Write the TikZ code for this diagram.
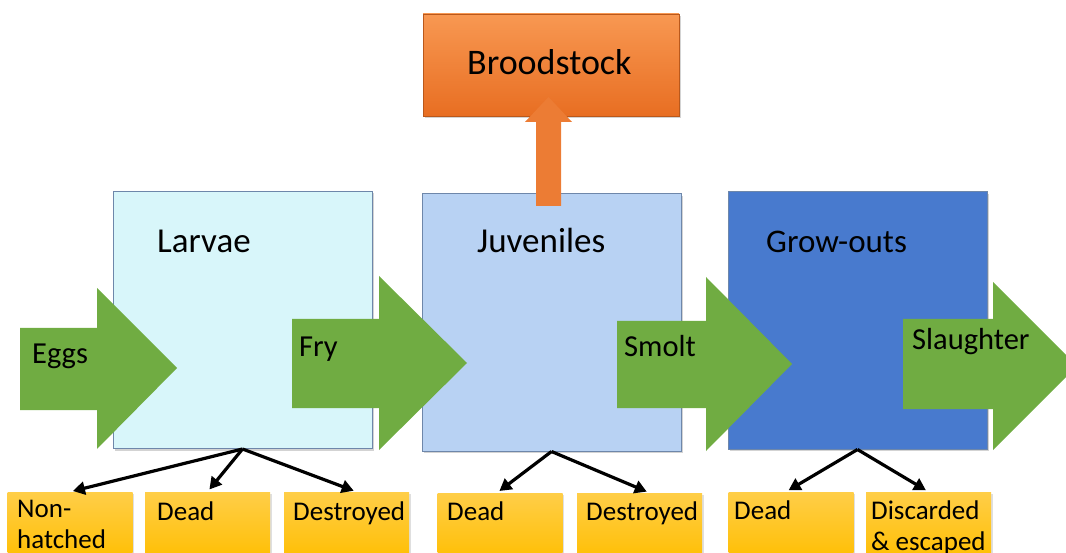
\documentclass[tikz,border=0pt]{standalone}
\usepackage{fontspec}
\setmainfont{Carlito}
\usetikzlibrary{arrows.meta,shadows}
\definecolor{larvaefill}{RGB}{216,246,250}
\definecolor{juvfill}{RGB}{184,210,243}
\definecolor{growfill}{RGB}{72,122,206}
\definecolor{stageline}{RGB}{110,135,170}
\definecolor{arrowgreen}{RGB}{112,172,66}
\definecolor{broodtop}{RGB}{248,152,82}
\definecolor{broodbot}{RGB}{232,110,34}
\definecolor{broodarrow}{RGB}{236,124,52}
\definecolor{losstop}{RGB}{255,206,72}
\definecolor{lossbot}{RGB}{255,190,0}

\begin{document}
\begin{tikzpicture}[
    x=1pt, y=-1pt,
    stagebox/.style={draw=stageline, line width=1pt, inner sep=0pt,
      minimum width=259pt, minimum height=257pt,
      drop shadow={shadow xshift=2pt, shadow yshift=-2pt, opacity=.35}},
    stagetext/.style={anchor=base west, inner sep=0pt, font=\fontsize{35}{41}\selectfont},
    flowtext/.style={anchor=base west, inner sep=0pt, font=\fontsize{30.5}{36}\selectfont},
    lossbox/.style={inner sep=0pt, minimum width=125pt, minimum height=70pt,
      top color=losstop, bottom color=lossbot,
      drop shadow={shadow xshift=1.5pt, shadow yshift=-1.5pt, opacity=.25}},
    losstext/.style={anchor=base west, inner sep=0pt, align=left,
      font=\fontsize{27}{31}\selectfont},
    greenarrow/.style={fill=arrowgreen},
    lossline/.style={line width=3.2pt, -{Triangle[length=12pt,width=13pt]}, shorten >=3pt},
    ]
    \useasboundingbox (0,0) rectangle (1066,553);
    \clip (0,0) rectangle (1066,553);

    % stages
    \node[stagebox, fill=larvaefill] (larvae) at (242.5,320) {};
    \node[stagebox, fill=juvfill] (juveniles) at (551.5,322.5) {};
    \node[stagebox, fill=growfill] (growouts) at (857.5,320.5) {};
    \node[draw=broodbot!80!black, line width=.8pt, inner sep=0pt,
      minimum width=256pt, minimum height=102pt,
      top color=broodtop, bottom color=broodbot,
      drop shadow={shadow xshift=2pt, shadow yshift=-2pt, opacity=.35}] (brood) at (551,65) {};

    % losses
    \node[lossbox] (nonhatched) at (70,527) {};
    \node[lossbox] (deadlarvae) at (207.5,527) {};
    \node[lossbox] (destrlarvae) at (346.5,527) {};
    \node[lossbox] (deadjuv) at (500,528) {};
    \node[lossbox] (destrjuv) at (639.5,528) {};
    \node[lossbox] (deadgrow) at (791,527) {};
    \node[lossbox] (discarded) at (928.5,527) {};

    \draw[lossline] (larvae.south) -- (nonhatched.north);
    \draw[lossline] (larvae.south) -- (deadlarvae.north);
    \draw[lossline] (larvae.south) -- ([xshift=10pt]destrlarvae.north);
    \draw[lossline] (juveniles.south) -- ([xshift=-3pt]deadjuv.north);
    \draw[lossline] (juveniles.south) -- ([xshift=10pt]destrjuv.north);
    \draw[lossline] (growouts.south) -- ([xshift=-5pt]deadgrow.north);
    \draw[lossline] (growouts.south) -- (discarded.north);

    % broodstock arrow
    \fill[broodarrow] (536,206) -- (536,122) -- (525,122) -- (548.5,97) -- (572,122) -- (561,122) -- (561,206) -- cycle;

    % flow arrows
    \fill[greenarrow] (20,328) -- (97,328) -- (97,288) -- (177,368) -- (97,449) -- (97,410) -- (20,410) -- cycle;
    \fill[greenarrow] (292,319) -- (379,319) -- (379,276) -- (467,363) -- (379,450) -- (379,408) -- (292,408) -- cycle;
    \fill[greenarrow] (617,321) -- (706,321) -- (706,277) -- (792,364) -- (706,451) -- (706,408) -- (617,408) -- cycle;
    \fill[greenarrow] (903,319) -- (993,319) -- (993,282) -- (1077,366) -- (993,450) -- (993,409) -- (903,409) -- cycle;

    % texts
    \node[stagetext] (larvaetxt) at (157,253) {Larvae};
    \node[stagetext] (juvtxt) at (477,253) {Juveniles};
    \node[stagetext, font=\fontsize{33}{39}\selectfont] (growtxt) at (766,253) {Grow-outs};
    \node[stagetext, font=\fontsize{36}{42}\selectfont] (broodtxt) at (467,75) {Broodstock};

    \node[flowtext] (eggs) at (32,363) {Eggs};
    \node[flowtext] (fry) at (299,356) {Fry};
    \node[flowtext] (smolt) at (624,357) {Smolt};
    \node[flowtext] (slaughter) at (912,349) {Slaughter};

    \node[losstext] (nonhatchedtxt) at (17,548) {Non-\\hatched};
    \node[losstext] (deadlarvaetxt) at (157,520) {Dead};
    \node[losstext] (destrlarvaetxt) at (293,520) {Destroyed};
    \node[losstext] (deadjuvtxt) at (447,520) {Dead};
    \node[losstext] (destrjuvtxt) at (586,520) {Destroyed};
    \node[losstext] (deadgrowtxt) at (734,519) {Dead};
    \node[losstext] (discardedtxt) at (871,550) {Discarded\\\& escaped};
\end{tikzpicture}
\end{document}
